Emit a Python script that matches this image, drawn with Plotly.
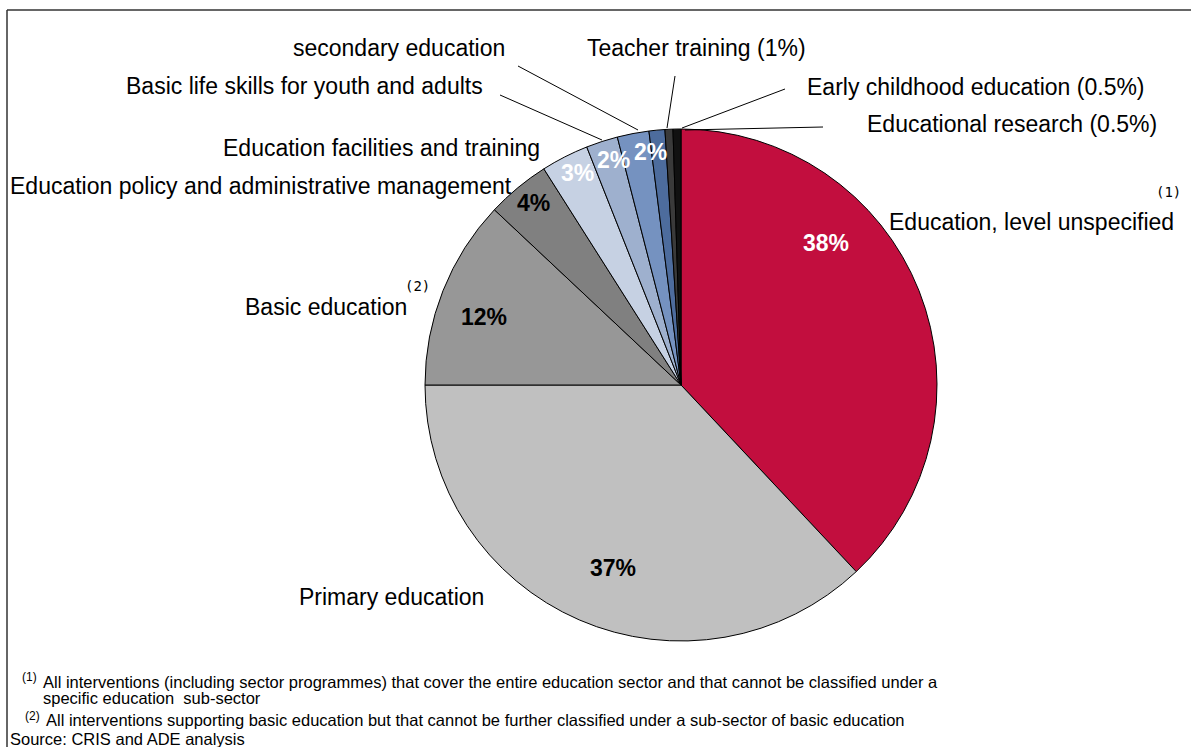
import plotly.graph_objects as go

# Breakdown of education interventions by sub-sector (share of total, %)
categories = [
    "Education, level unspecified",
    "Primary education",
    "Basic education",
    "Education policy and administrative management",
    "Education facilities and training",
    "Basic life skills for youth and adults",
    "secondary education",
    "Teacher training",
    "Early childhood education",
    "Educational research",
]
shares = [38, 37, 12, 4, 3, 2, 2, 1, 0.5, 0.5]
slice_colors = [
    "#C20E3E", "#C0C0C0", "#979797", "#808080", "#C6D1E3",
    "#9EB0CE", "#7592C0", "#4D6C9D", "#3A3A3A", "#111111",
]
# Percent labels drawn inside slices (None = no label)
inside_label_color = ["white", "black", "black", "black", "white",
                      "white", "white", None, None, None]

W, H = 1191, 747
FONT = "Liberation Sans, Arial, sans-serif"


def px(x):
    return x / W


def py(y):
    return 1 - y / H


fig = go.Figure()

# Pie box in pixels: left, right, top, bottom
pie_l, pie_r, pie_t, pie_b = 425, 937, 129, 641
fig.add_trace(go.Pie(
    labels=categories,
    values=shares,
    sort=False,
    direction="clockwise",
    rotation=0,
    marker=dict(colors=slice_colors, line=dict(color="black", width=1)),
    textinfo="none",
    hoverinfo="label+percent",
    showlegend=False,
    domain=dict(x=[px(pie_l), px(pie_r)], y=[py(pie_b), py(pie_t)]),
))


def fmt_pct(v):
    return f"{v:g}%"


# Inside percent labels (centre positions in pixels)
inside_pos = [(826, 243), (613, 568), (484, 317), (533, 203), (577, 173),
              (613, 160), (650, 152), None, None, None]
for v, col, pos in zip(shares, inside_label_color, inside_pos):
    if col is None or pos is None:
        continue
    fig.add_annotation(
        x=px(pos[0]), y=py(pos[1]), xref="paper", yref="paper",
        text=f"<b>{fmt_pct(v)}</b>", showarrow=False,
        font=dict(family=FONT, size=23, color=col),
        xanchor="center", yanchor="middle",
    )

# Outside category labels: (text, x, y, anchor)
outside = [
    (categories[0], 887, 222, "left"),
    (categories[1], 297, 597, "left"),
    (categories[2], 409, 307, "right"),
    (categories[3], 8, 186, "left"),
    (categories[4], 542, 148, "right"),
    (categories[5], 485, 86, "right"),
    (categories[6], 507, 48, "right"),
    (f"{categories[7]} ({fmt_pct(shares[7])})", 585, 48, "left"),
    (f"{categories[8]} ({fmt_pct(shares[8])})", 805, 87, "left"),
    (f"{categories[9]} ({fmt_pct(shares[9])})", 865, 124, "left"),
]
for text, x, y, anchor in outside:
    fig.add_annotation(
        x=px(x), y=py(y), xref="paper", yref="paper", text=text,
        showarrow=False, font=dict(family=FONT, size=23, color="black"),
        xanchor=anchor, yanchor="middle",
    )

# Footnote markers next to labels
for mark, x, y in [("(1)", 1154, 192), ("(2)", 403, 286)]:
    fig.add_annotation(
        x=px(x), y=py(y), xref="paper", yref="paper", text=mark,
        showarrow=False, font=dict(family="DejaVu Sans Mono", size=14, color="black"),
        xanchor="left", yanchor="middle",
    )

# Leader lines from labels to small slices
leaders = [
    (518, 66, 638, 130),
    (500, 95, 602, 140),
    (675, 76, 667, 128),
    (785, 89, 682, 128),
    (823, 127, 685, 130),
]
for x0, y0, x1, y1 in leaders:
    fig.add_shape(type="line", xref="paper", yref="paper",
                  x0=px(x0), y0=py(y0), x1=px(x1), y1=py(y1),
                  line=dict(color="black", width=1))

# Frame lines (top and left)
fig.add_shape(type="line", xref="paper", yref="paper",
              x0=px(7), y0=py(10), x1=1, y1=py(10),
              line=dict(color="#333333", width=1.5))
fig.add_shape(type="line", xref="paper", yref="paper",
              x0=px(7), y0=py(10), x1=px(7), y1=0,
              line=dict(color="#333333", width=1.5))

# Notes under the chart
notes = [
    ("All interventions (including sector programmes) that cover the entire education sector and that cannot be classified under a", 41, 682),
    ("specific education  sub-sector", 41, 698),
    ("All interventions supporting basic education but that cannot be further classified under a sub-sector of basic education", 44, 720),
    ("Source: CRIS and ADE analysis", 8, 739),
]
for text, x, y in notes:
    fig.add_annotation(
        x=px(x), y=py(y), xref="paper", yref="paper", text=text,
        showarrow=False, font=dict(family=FONT, size=16.5, color="black"),
        xanchor="left", yanchor="middle",
    )
for mark, x, y in [("(1)", 20, 677), ("(2)", 23, 716)]:
    fig.add_annotation(
        x=px(x), y=py(y), xref="paper", yref="paper", text=mark,
        showarrow=False, font=dict(family=FONT, size=12, color="black"),
        xanchor="left", yanchor="middle",
    )

fig.update_layout(
    width=W, height=H,
    margin=dict(l=0, r=0, t=0, b=0),
    paper_bgcolor="white", plot_bgcolor="white",
)

fig.write_html("out.html")
